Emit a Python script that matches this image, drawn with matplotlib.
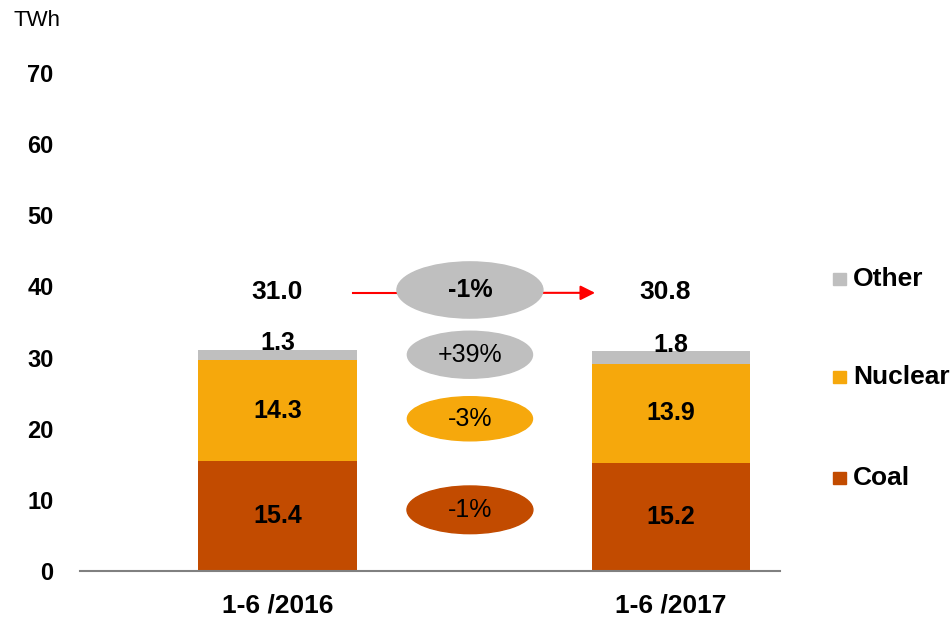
import numpy as np
import matplotlib.pyplot as plt
from matplotlib.patches import Ellipse, Rectangle

# dati (TWh)
periods = ['1-6 /2016', '1-6 /2017']
coal = [15.4, 15.2]
nuclear = [14.3, 13.9]
other = [1.3, 1.8]
totals = [31.0, 30.8]
# variazioni: totale, other, nuclear, coal
changes = ['-1%', '+39%', '-3%', '-1%']
legend_names = ['Other', 'Nuclear', 'Coal']

c_coal = '#C24B00'
c_nuc = '#F6A80C'
c_oth = '#BFBFBF'

plt.rcParams['font.family'] = ['Liberation Sans', 'DejaVu Sans']

W, H = 950, 620
fig = plt.figure(figsize=(9.5, 6.2), dpi=100)
ax = fig.add_axes([80 / W, 1 - 571 / H, 700 / W, (571 - 73) / H])

x = np.arange(len(periods))
w = 0.404
base2 = np.add(coal, nuclear)
ax.bar(x, coal, w, color=c_coal)
ax.bar(x, nuclear, w, bottom=coal, color=c_nuc)
ax.bar(x, other, w, bottom=base2, color=c_oth)

ax.set_xlim(-0.502, 1.277)
ax.set_ylim(0, 70)
for s in ['left', 'right', 'top']:
    ax.spines[s].set_visible(False)
ax.spines['bottom'].set_color('#808080')
ax.spines['bottom'].set_linewidth(1.5)

ax.set_yticks(range(0, 71, 10))
ax.set_yticklabels([str(v) for v in range(0, 71, 10)], fontsize=17, fontweight='bold')
ax.set_xticks(x)
ax.set_xticklabels(periods, fontsize=19, fontweight='bold')
ax.tick_params(axis='y', length=0, pad=19)
ax.tick_params(axis='x', length=0, pad=16)

fig.text(13 / W, 1 - 20 / H, 'TWh', fontsize=16, va='center', ha='left')

# etichette valori
for i in x:
    ax.text(i, coal[i] / 2, f'{coal[i]:.1f}', ha='center', va='center',
            fontsize=18, fontweight='bold')
    ax.text(i, coal[i] + nuclear[i] / 2, f'{nuclear[i]:.1f}', ha='center', va='center',
            fontsize=18, fontweight='bold')
    ax.text(i, totals[i] + 1.0, f'{other[i]:.1f}', ha='center', va='center',
            fontsize=18, fontweight='bold')
    ax.text(i - 0.015 * i, 39.2, f'{totals[i]:.1f}', ha='center', va='center',
            fontsize=19, fontweight='bold')

# ellissi con variazioni
ex = 0.489
ell_y = [39.5, 30.4, 21.4, 8.6]
ell_w = [0.371, 0.318, 0.318, 0.32]
ell_h = [7.9, 6.6, 6.2, 6.7]
ell_c = [c_oth, c_oth, c_nuc, c_coal]
ell_bold = ['bold', 'normal', 'normal', 'normal']
for lab, yy, ww, hh, cc, fw in zip(changes, ell_y, ell_w, ell_h, ell_c, ell_bold):
    ax.add_patch(Ellipse((ex, yy), ww, hh, color=cc, zorder=3))
    ax.text(ex, yy, lab, ha='center', va='center', fontsize=18, fontweight=fw, zorder=4)

# frecce rosse
ay = 39.1
ax.plot([0.192, ex - ell_w[0] / 2], [ay, ay], color='red', lw=1.5, zorder=2)
ax.annotate('', xy=(0.807, ay), xytext=(ex + ell_w[0] / 2, ay),
            arrowprops=dict(arrowstyle='-|>', color='red', lw=1.5,
                            mutation_scale=22, shrinkA=0, shrinkB=0), zorder=2)

# legenda
leg_y = [279, 377, 478]
for name, yy, cc in zip(legend_names, leg_y, [c_oth, c_nuc, c_coal]):
    fig.add_artist(Rectangle((833 / W, 1 - (yy + 6) / H), 13 / W, 12 / H,
                             transform=fig.transFigure, color=cc))
    fig.text(853 / W, 1 - yy / H, name, fontsize=19, fontweight='bold',
             va='center', ha='left')

fig.savefig('out.png', dpi=100)
